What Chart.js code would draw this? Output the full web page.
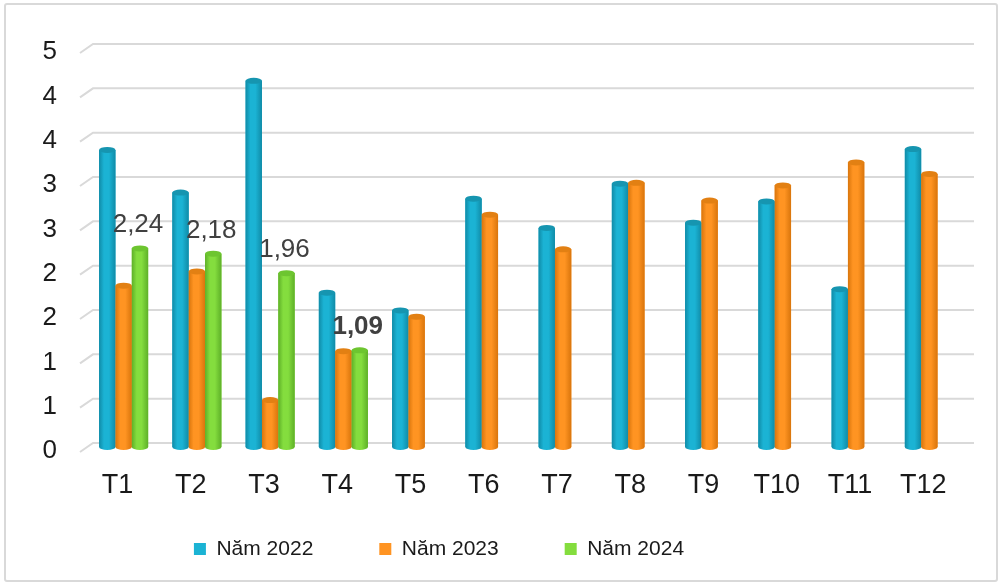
<!DOCTYPE html>
<html>
<head>
<meta charset="utf-8">
<script src="https://cdn.jsdelivr.net/npm/chart.js@4.4.1/dist/chart.umd.min.js"></script>
<style>
    html, body { margin: 0; padding: 0; background: #fff; }
    #wrap { position: relative; width: 1003px; height: 588px; }
    #frame {
        position: absolute; left: 4px; top: 3px; width: 994px; height: 579px;
        box-sizing: border-box; border: 2px solid #d9d9d9; border-radius: 3px;
        pointer-events: none;
    }
</style>
</head>
<body>
<div id="wrap">
    <canvas id="chart" width="1003" height="588"></canvas>
    <div id="frame"></div>
</div>
<script>
// data
const months = ["T1", "T2", "T3", "T4", "T5", "T6", "T7", "T8", "T9", "T10", "T11", "T12"];
const year2022 = [3.35, 2.87, 4.13, 1.74, 1.54, 2.80, 2.47, 2.97, 2.53, 2.77, 1.78, 3.36];
const year2023 = [1.82, 1.98, 0.53, 1.08, 1.47, 2.62, 2.23, 2.98, 2.78, 2.95, 3.21, 3.08];
const year2024 = [2.24, 2.18, 1.96, 1.09, null, null, null, null, null, null, null, null];
const seriesNames = ["Năm 2022", "Năm 2023", "Năm 2024"];

// colours: body, dark edge, top cap
const colors = ["#1BB3D4", "#FF9422", "#84DD3E"];
const edges = ["#108BA7", "#D9750C", "#5EB028"];
const caps = ["#1695B0", "#E28013", "#6DC530"];

const legendFont = { family: "'Liberation Sans', Arial, sans-serif", size: 21 };
const legendPad = 66;
const legendBox = 60;     // height the layout reserves for the legend
const legendItemY = 549;  // centre line of the legend row
const plotBottom = 447;

// perspective gridlines (front stub + back line)
const floorGrid = {
    id: "floorGrid",
    beforeDatasetsDraw(chart) {
        const ctx = chart.ctx;
        const y = chart.scales.y;
        const area = chart.chartArea;
        ctx.save();
        ctx.strokeStyle = "#d9d9d9";
        ctx.lineWidth = 2;
        y.ticks.forEach((t) => {
            const py = y.getPixelForValue(t.value);
            ctx.beginPath();
            ctx.moveTo(area.left - 7, py + 5);
            ctx.lineTo(area.left + 6, py - 4);
            ctx.lineTo(area.right + 8, py - 4);
            ctx.stroke();
        });
        ctx.restore();
    }
};

// redraw bars as cylinders, then the 2024 labels
const cylinders = {
    id: "cylinders",
    afterDatasetsDraw(chart) {
        const ctx = chart.ctx;
        chart.data.datasets.forEach((ds, di) => {
            const meta = chart.getDatasetMeta(di);
            meta.data.forEach((bar, i) => {
                if (ds.data[i] == null) return;
                const p = bar.getProps(["x", "y", "base", "width"], true);
                const l = p.x - p.width / 2;
                const r = p.x + p.width / 2;
                const rx = p.width / 2;
                const ry = 3;
                const g = ctx.createLinearGradient(l, 0, r, 0);
                g.addColorStop(0, edges[di]);
                g.addColorStop(0.3, colors[di]);
                g.addColorStop(0.6, colors[di]);
                g.addColorStop(1, edges[di]);
                ctx.save();
                ctx.fillStyle = g;
                ctx.beginPath();
                ctx.moveTo(l, p.y);
                ctx.lineTo(l, p.base);
                ctx.ellipse(p.x, p.base, rx, ry, 0, Math.PI, 0, true);
                ctx.lineTo(r, p.y);
                ctx.closePath();
                ctx.fill();
                ctx.fillStyle = caps[di];
                ctx.beginPath();
                ctx.ellipse(p.x, p.y, rx, ry, 0, 0, Math.PI * 2);
                ctx.fill();
                ctx.restore();
            });
        });

        // value labels on 2024, last one bold
        const meta = chart.getDatasetMeta(2);
        const shown = year2024.map((v, i) => v == null ? -1 : i).filter((i) => i >= 0);
        const last = shown[shown.length - 1];
        ctx.save();
        ctx.fillStyle = "#404040";
        ctx.textAlign = "center";
        ctx.textBaseline = "alphabetic";
        shown.forEach((i) => {
            const bar = meta.data[i];
            const weight = i === last ? "bold " : "";
            ctx.font = weight + "26px 'Liberation Sans', Arial, sans-serif";
            const text = year2024[i].toFixed(2).replace(".", ",");
            ctx.fillText(text, bar.x - 2, bar.y - 16);
        });
        ctx.restore();
    }
};

// legend sits left of centre and higher than its box in the reference
const legendShift = {
    id: "legendShift",
    afterLayout(chart) {
        const lg = chart.legend;
        lg.left -= 44;
        lg.right -= 44;
        lg.top = legendItemY - legendPad - legendFont.size / 2;
    }
};

new Chart(document.getElementById("chart"), {
    type: "bar",
    data: {
        labels: months,
        datasets: [
            { label: seriesNames[0], data: year2022, backgroundColor: colors[0] },
            { label: seriesNames[1], data: year2023, backgroundColor: colors[1] },
            { label: seriesNames[2], data: year2024, backgroundColor: colors[2] }
        ]
    },
    options: {
        responsive: false,
        animation: false,
        layout: { padding: { top: 48, right: 37, bottom: 0, left: 0 } },
        datasets: {
            bar: { categoryPercentage: 0.67, barPercentage: 1.0, borderWidth: 0 }
        },
        scales: {
            x: {
                grid: { display: false, drawTicks: false },
                border: { display: false },
                ticks: {
                    padding: 22,
                    labelOffset: -6,
                    color: "#1a1a1a",
                    font: { family: "'Liberation Sans', Arial, sans-serif", size: 27 }
                },
                afterFit(scale) { scale.height = 588 - legendBox - plotBottom; }
            },
            y: {
                min: 0,
                max: 4.5,
                grid: { display: false, drawTicks: false },
                border: { display: false },
                ticks: {
                    stepSize: 0.5,
                    padding: 30,
                    labelOffset: 4,
                    color: "#1a1a1a",
                    font: { family: "'Liberation Sans', Arial, sans-serif", size: 26 },
                    callback: (v) => Math.round(v).toString()
                },
                afterFit(scale) { scale.width = 87; }
            }
        },
        plugins: {
            tooltip: { enabled: false },
            legend: {
                position: "bottom",
                maxHeight: legendBox,
                labels: {
                    boxWidth: 12,
                    boxHeight: 12,
                    padding: legendPad,
                    color: "#1a1a1a",
                    font: legendFont
                }
            }
        }
    },
    plugins: [floorGrid, cylinders, legendShift]
});
</script>
</body>
</html>
